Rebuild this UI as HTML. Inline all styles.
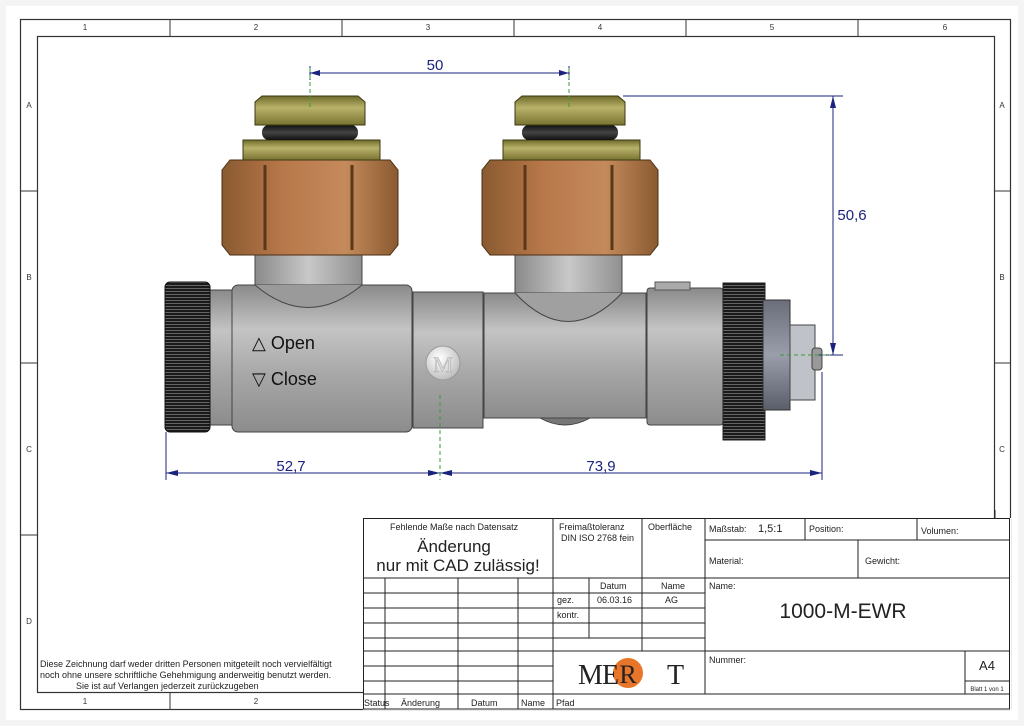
<!DOCTYPE html>
<html><head><meta charset="utf-8"><style>
html,body{margin:0;padding:0;background:#fff;}
svg{display:block;font-family:"Liberation Sans",sans-serif;}
.t{font-size:9px;fill:#222;}
.z{font-size:8px;fill:#333;text-anchor:middle;}
.d{font-size:15px;fill:#1a237e;text-anchor:middle;}
</style></head><body>
<svg width="1024" height="726" viewBox="0 0 1024 726">
<defs>
<linearGradient id="gb" x1="0" y1="0" x2="0" y2="1"><stop offset="0" stop-color="#8a8a8a"/><stop offset="0.3" stop-color="#c4c4c4"/><stop offset="0.6" stop-color="#a8a8a8"/><stop offset="1" stop-color="#8c8c8c"/></linearGradient>
<linearGradient id="gv" x1="0" y1="0" x2="1" y2="0"><stop offset="0" stop-color="#8a8a8a"/><stop offset="0.5" stop-color="#c8c8c8"/><stop offset="1" stop-color="#909090"/></linearGradient>
<linearGradient id="cu" x1="0" y1="0" x2="1" y2="0"><stop offset="0" stop-color="#8a5a30"/><stop offset="0.35" stop-color="#b8784a"/><stop offset="0.7" stop-color="#c48a5c"/><stop offset="1" stop-color="#8a5a30"/></linearGradient>
<linearGradient id="ol" x1="0" y1="0" x2="0" y2="1"><stop offset="0" stop-color="#6e6a2a"/><stop offset="0.4" stop-color="#b8b26a"/><stop offset="1" stop-color="#7a7432"/></linearGradient>
<linearGradient id="bk" x1="0" y1="0" x2="0" y2="1"><stop offset="0" stop-color="#111"/><stop offset="0.5" stop-color="#444"/><stop offset="1" stop-color="#111"/></linearGradient>
<linearGradient id="hx" x1="0" y1="0" x2="0" y2="1"><stop offset="0" stop-color="#6a6e7a"/><stop offset="0.5" stop-color="#9a9eaa"/><stop offset="1" stop-color="#5a5e6a"/></linearGradient>
<pattern id="knh" width="45" height="3" patternUnits="userSpaceOnUse"><rect width="45" height="3" fill="#1a1a1a"/><rect width="45" height="1" fill="#666"/></pattern>
<radialGradient id="mb" cx="0.4" cy="0.35" r="0.7"><stop offset="0" stop-color="#fff"/><stop offset="1" stop-color="#bbb"/></radialGradient>
</defs>
<rect x="0" y="0" width="1024" height="726" fill="#f4f4f4"/>
<rect x="6" y="6" width="1012" height="714" fill="#fff"/>
<!-- frames -->
<rect x="20.5" y="19.5" width="990" height="690" fill="none" stroke="#333" stroke-width="1.2"/>
<rect x="37.5" y="36.5" width="957" height="656" fill="none" stroke="#333" stroke-width="1.2"/>
<g stroke="#333" stroke-width="1">
<line x1="170" y1="20" x2="170" y2="36"/><line x1="342" y1="20" x2="342" y2="36"/><line x1="514" y1="20" x2="514" y2="36"/><line x1="686" y1="20" x2="686" y2="36"/><line x1="858" y1="20" x2="858" y2="36"/>
<line x1="170" y1="692" x2="170" y2="709"/>
<line x1="20" y1="191" x2="37" y2="191"/><line x1="20" y1="363" x2="37" y2="363"/><line x1="20" y1="535" x2="37" y2="535"/>
<line x1="995" y1="191" x2="1010" y2="191"/><line x1="995" y1="363" x2="1010" y2="363"/>
</g>
<g class="z">
<text x="85" y="30">1</text><text x="256" y="30">2</text><text x="428" y="30">3</text><text x="600" y="30">4</text><text x="772" y="30">5</text><text x="945" y="30">6</text>
<text x="85" y="704">1</text><text x="256" y="704">2</text>
<text x="29" y="108">A</text><text x="29" y="280">B</text><text x="29" y="452">C</text><text x="29" y="624">D</text>
<text x="1002" y="108">A</text><text x="1002" y="280">B</text><text x="1002" y="452">C</text>
</g>
<!-- DRAWING -->
<rect x="255" y="250" width="107" height="60" fill="url(#gv)" stroke="#444"/>
<rect x="515" y="250" width="107" height="80" fill="url(#gv)" stroke="#444"/>
<rect x="232" y="285" width="180" height="147" rx="6" fill="url(#gb)" stroke="#444"/>
<path d="M255 285 Q308 330 362 285" fill="#9a9a9a" stroke="#444"/>
<rect x="413" y="292" width="70" height="136" fill="url(#gb)" stroke="#444"/>
<rect x="484" y="293" width="162" height="125" fill="url(#gb)" stroke="#444"/>
<path d="M515 293 Q568 350 622 293" fill="#a0a0a0" stroke="#444"/>
<path d="M540 418 Q565 432 590 418Z" fill="#777" stroke="#444"/>
<rect x="647" y="288" width="76" height="137" rx="3" fill="url(#gb)" stroke="#444"/>
<rect x="655" y="282" width="35" height="8" fill="#aaa" stroke="#555"/>
<rect x="210" y="290" width="22" height="135" fill="url(#gb)" stroke="#444"/>
<rect x="165" y="282" width="45" height="150" rx="5" fill="url(#knh)" stroke="#111"/>
<rect x="723" y="283" width="42" height="157" fill="url(#knh)" stroke="#222"/>
<rect x="763" y="300" width="27" height="110" fill="url(#hx)" stroke="#333"/>
<rect x="790" y="325" width="25" height="75" fill="#bfc2c8" stroke="#444"/>
<rect x="812" y="348" width="10" height="22" rx="3" fill="#999" stroke="#444"/>
<circle cx="443" cy="363" r="17" fill="url(#mb)" stroke="#999"/>
<text x="443" y="372" font-family="Liberation Serif" font-size="22" text-anchor="middle" fill="#ddd" stroke="#aaa" stroke-width="0.5">M</text>
<text x="252" y="349" font-size="18" fill="#111">△ Open</text>
<text x="252" y="385" font-size="18" fill="#111">▽ Close</text>
<g id="top">
<path d="M222 170 L230 160 L390 160 L398 170 L398 245 L390 255 L230 255 L222 245Z" fill="url(#cu)" stroke="#4a2e14"/>
<line x1="265" y1="165" x2="265" y2="250" stroke="#5a3818" stroke-width="3"/>
<line x1="352" y1="165" x2="352" y2="250" stroke="#5a3818" stroke-width="3"/>
<rect x="243" y="140" width="137" height="20" fill="url(#ol)" stroke="#3e3a10"/>
<rect x="262" y="125" width="96" height="15" rx="7" fill="url(#bk)"/>
<path d="M262 96 L358 96 L365 102 L365 125 L255 125 L255 102Z" fill="url(#ol)" stroke="#3e3a10"/>
</g>
<use href="#top" transform="translate(260,0)"/>
<g stroke="#1a237e" stroke-width="1" fill="none">
<line x1="310" y1="73" x2="569" y2="73"/>
<line x1="310" y1="66" x2="310" y2="80"/><line x1="569" y1="66" x2="569" y2="80"/>
<line x1="166" y1="432" x2="166" y2="480"/><line x1="822" y1="372" x2="822" y2="480"/>
<line x1="166" y1="473" x2="822" y2="473"/>
<line x1="623" y1="96" x2="843" y2="96"/><line x1="815" y1="355" x2="843" y2="355"/>
<line x1="833" y1="96" x2="833" y2="355"/>
</g>
<g fill="#1a237e">
<path d="M310 73 l10 -3 v6z"/><path d="M569 73 l-10 -3 v6z"/>
<path d="M166 473 l12 -3 v6z"/><path d="M440 473 l-12 -3 v6z"/><path d="M440 473 l12 -3 v6z"/><path d="M822 473 l-12 -3 v6z"/>
<path d="M833 96 l-3 12 h6z"/><path d="M833 355 l-3 -12 h6z"/>
</g>
<g stroke="#3a9a3a" stroke-dasharray="4,3" stroke-width="1">
<line x1="310" y1="68" x2="310" y2="110"/><line x1="569" y1="68" x2="569" y2="110"/>
<line x1="440" y1="395" x2="440" y2="480"/>
<line x1="780" y1="355" x2="830" y2="355"/>
</g>
<text class="d" x="435" y="70">50</text>
<text class="d" x="291" y="471">52,7</text>
<text class="d" x="601" y="471">73,9</text>
<text class="d" x="852" y="220">50,6</text>
<text x="40" y="667" font-size="9" fill="#222">Diese Zeichnung darf weder dritten Personen mitgeteilt noch vervielfältigt</text>
<text x="40" y="678" font-size="9" fill="#222">noch ohne unsere schriftliche Gehehmigung anderweitig benutzt werden.</text>
<text x="76" y="689" font-size="9" fill="#222">Sie ist auf Verlangen jederzeit zurückzugeben</text>
<!-- title block -->
<rect x="363" y="518" width="648" height="192" fill="#fff"/>
<g stroke="#222" stroke-width="1" fill="none">
<rect x="363.5" y="518.5" width="646" height="190.5"/>
<line x1="363" y1="578" x2="1010" y2="578"/>
<line x1="705" y1="540" x2="1010" y2="540"/>
<line x1="363" y1="593" x2="705" y2="593"/>
<line x1="363" y1="608" x2="705" y2="608"/>
<line x1="363" y1="623" x2="705" y2="623"/>
<line x1="363" y1="638" x2="705" y2="638"/>
<line x1="363" y1="651" x2="1010" y2="651"/>
<line x1="363" y1="666" x2="553" y2="666"/>
<line x1="363" y1="681" x2="553" y2="681"/>
<line x1="363" y1="694" x2="1010" y2="694"/>
<line x1="965" y1="681" x2="1010" y2="681"/>
<line x1="385" y1="578" x2="385" y2="709"/>
<line x1="458" y1="578" x2="458" y2="709"/>
<line x1="518" y1="578" x2="518" y2="709"/>
<line x1="553" y1="518" x2="553" y2="709"/>
<line x1="589" y1="578" x2="589" y2="638"/>
<line x1="642" y1="518" x2="642" y2="651"/>
<line x1="705" y1="518" x2="705" y2="694"/>
<line x1="805" y1="518" x2="805" y2="540"/>
<line x1="917" y1="518" x2="917" y2="540"/>
<line x1="858" y1="540" x2="858" y2="578"/>
<line x1="965" y1="651" x2="965" y2="694"/>
<line x1="995" y1="510" x2="995" y2="518"/>
</g>
<g class="t">
<text x="390" y="530">Fehlende Maße nach Datensatz</text>
<text x="454" y="552" font-size="17" text-anchor="middle">Änderung</text>
<text x="458" y="571" font-size="17" text-anchor="middle">nur mit CAD zulässig!</text>
<text x="559" y="530">Freimaßtoleranz</text>
<text x="561" y="541">DIN ISO 2768 fein</text>
<text x="648" y="530">Oberfläche</text>
<text x="709" y="532">Maßstab:</text><text x="758" y="532" font-size="11">1,5:1</text>
<text x="809" y="532">Position:</text>
<text x="921" y="534">Volumen:</text>
<text x="709" y="564">Material:</text>
<text x="865" y="564">Gewicht:</text>
<text x="709" y="589">Name:</text>
<text x="600" y="589">Datum</text><text x="661" y="589">Name</text>
<text x="557" y="603">gez.</text><text x="597" y="603">06.03.16</text><text x="665" y="603">AG</text>
<text x="557" y="618">kontr.</text>
<text x="843" y="618" font-size="21" text-anchor="middle">1000-M-EWR</text>
<text x="709" y="663">Nummer:</text>
<text x="987" y="670" font-size="13" text-anchor="middle">A4</text>
<text x="987" y="691" font-size="6" text-anchor="middle">Blatt 1 von 1</text>
<text x="364" y="706">Status</text><text x="401" y="706">Änderung</text><text x="471" y="706">Datum</text><text x="521" y="706">Name</text><text x="556" y="706">Pfad</text>
</g>
<circle cx="628" cy="673" r="15" fill="#e8762a"/>
<text x="578" y="684" font-family="Liberation Serif" font-size="28" fill="#222">M</text>
<text x="602" y="684" font-family="Liberation Serif" font-size="28" fill="#222">E</text>
<text x="628" y="683" font-family="Liberation Serif" font-size="26" fill="#222" text-anchor="middle">R</text>
<text x="667" y="684" font-family="Liberation Serif" font-size="28" fill="#222">T</text>
</svg>
</body></html>
